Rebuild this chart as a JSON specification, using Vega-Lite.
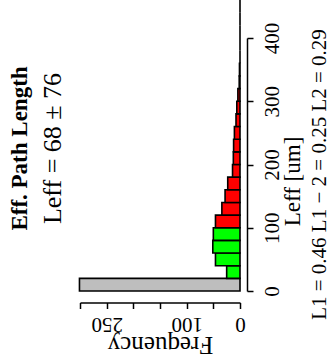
{
  "$schema": "https://vega.github.io/schema/vega-lite/v6.json",
  "width": 160,
  "height": 253,
  "autosize": {"type": "none"},
  "padding": {"left": 80, "top": 38, "right": 90, "bottom": 71},
  "config": {"font": "Liberation Serif", "view": {"stroke": null}},
  "data": {
    "values": [
      {"start": 0, "end": 20, "count": 301, "group": "gray"},
      {"start": 20, "end": 40, "count": 25, "group": "green"},
      {"start": 40, "end": 60, "count": 46, "group": "green"},
      {"start": 60, "end": 80, "count": 51, "group": "green"},
      {"start": 80, "end": 100, "count": 50, "group": "green"},
      {"start": 100, "end": 120, "count": 46, "group": "red"},
      {"start": 120, "end": 140, "count": 34, "group": "red"},
      {"start": 140, "end": 160, "count": 28, "group": "red"},
      {"start": 160, "end": 180, "count": 23, "group": "red"},
      {"start": 180, "end": 200, "count": 14, "group": "red"},
      {"start": 200, "end": 220, "count": 12.5, "group": "red"},
      {"start": 220, "end": 240, "count": 12, "group": "red"},
      {"start": 240, "end": 260, "count": 10.5, "group": "red"},
      {"start": 260, "end": 280, "count": 7.5, "group": "red"},
      {"start": 280, "end": 300, "count": 6, "group": "red"},
      {"start": 300, "end": 320, "count": 4, "group": "red"},
      {"start": 320, "end": 340, "count": 1.5, "group": "red"},
      {"start": 340, "end": 360, "count": 1, "group": "red"},
      {"start": 360, "end": 380, "count": 0, "group": "red"},
      {"start": 380, "end": 400, "count": 0, "group": "red"},
      {"start": 400, "end": 420, "count": 0, "group": "red"},
      {"start": 420, "end": 440, "count": 0, "group": "red"},
      {"start": 440, "end": 460, "count": 0, "group": "red"},
      {"start": 460, "end": 480, "count": 0, "group": "red"}
    ]
  },
  "resolve": {"axis": {"y": "independent"}},
  "layer": [
    {
      "mark": {"type": "bar", "stroke": "black", "strokeWidth": 1.6},
      "encoding": {
        "y": {
          "field": "start",
          "type": "quantitative",
          "scale": {"domain": [0, 400], "nice": false, "zero": false},
          "axis": {
            "orient": "right",
            "offset": 7,
            "values": [0, 100, 200, 300, 400],
            "grid": false,
            "domainColor": "black",
            "domainWidth": 1.5,
            "tickColor": "black",
            "tickWidth": 1.5,
            "tickSize": 6,
            "labelAngle": 270,
            "labelAlign": "center",
            "labelBaseline": "middle",
            "labelPadding": 19,
            "labelFontSize": 21,
            "labelColor": "black",
            "labelFlush": false,
            "labelOverlap": false,
            "title": "Leff [um]",
            "titleAngle": 270,
            "titleFontSize": 23,
            "titleFontWeight": "normal",
            "titleColor": "black",
            "titleAlign": "center",
            "titleBaseline": "middle",
            "titleX": 45,
            "titleY": 143
          }
        },
        "y2": {"field": "end"},
        "x": {
          "field": "count",
          "type": "quantitative",
          "scale": {"domain": [0, 300], "reverse": true, "nice": false, "zero": false},
          "axis": {
            "orient": "bottom",
            "offset": 11.5,
            "values": [0, 50, 100, 150, 200, 250, 300],
            "grid": false,
            "domainColor": "black",
            "domainWidth": 1.5,
            "tickColor": "black",
            "tickWidth": 1.5,
            "tickSize": 6,
            "labelExpr": "datum.value == 0 || datum.value == 100 || datum.value == 250 ? datum.label : ''",
            "labelAngle": 180,
            "labelAlign": "center",
            "labelBaseline": "middle",
            "labelPadding": 15,
            "labelFontSize": 21,
            "labelColor": "black",
            "labelFlush": false,
            "labelOverlap": false,
            "title": "Frequency",
            "titleAngle": 180,
            "titleFontSize": 25,
            "titleFontWeight": "normal",
            "titleColor": "black",
            "titleAlign": "center",
            "titleBaseline": "middle",
            "titleX": 80,
            "titleY": 41.5
          }
        },
        "x2": {"datum": 0},
        "color": {
          "field": "group",
          "type": "nominal",
          "scale": {"domain": ["gray", "green", "red"], "range": ["#bebebe", "#00ff00", "#ff0000"]},
          "legend": null
        }
      }
    },
    {
      "mark": {"type": "point", "opacity": 0},
      "encoding": {
        "y": {
          "field": "start",
          "type": "quantitative",
          "scale": {"domain": [0, 400], "nice": false, "zero": false},
          "axis": {
            "orient": "right",
            "offset": 7,
            "labels": false,
            "ticks": false,
            "domain": false,
            "grid": false,
            "title": "L1 = 0.46  L1 − 2 = 0.25  L2 = 0.29",
            "titleAngle": 270,
            "titleFontSize": 21,
            "titleFontWeight": "normal",
            "titleColor": "black",
            "titleAlign": "center",
            "titleBaseline": "middle",
            "titleX": 72,
            "titleY": 136
          }
        }
      }
    },
    {
      "mark": {"type": "point", "opacity": 0},
      "encoding": {
        "y": {
          "field": "start",
          "type": "quantitative",
          "scale": {"domain": [0, 400], "nice": false, "zero": false},
          "axis": {
            "orient": "left",
            "offset": 0,
            "labels": false,
            "ticks": false,
            "domain": false,
            "grid": false,
            "title": "Eff. Path Length",
            "titleAngle": 270,
            "titleFontSize": 23,
            "titleFontWeight": "bold",
            "titleColor": "black",
            "titleAlign": "center",
            "titleBaseline": "middle",
            "titleX": -61,
            "titleY": 110
          }
        }
      }
    },
    {
      "mark": {"type": "point", "opacity": 0},
      "encoding": {
        "y": {
          "field": "start",
          "type": "quantitative",
          "scale": {"domain": [0, 400], "nice": false, "zero": false},
          "axis": {
            "orient": "left",
            "offset": 0,
            "labels": false,
            "ticks": false,
            "domain": false,
            "grid": false,
            "title": "Leff = 68 ± 76",
            "titleAngle": 270,
            "titleFontSize": 26,
            "titleFontWeight": "normal",
            "titleColor": "black",
            "titleAlign": "center",
            "titleBaseline": "middle",
            "titleX": -28,
            "titleY": 110
          }
        }
      }
    }
  ]
}
